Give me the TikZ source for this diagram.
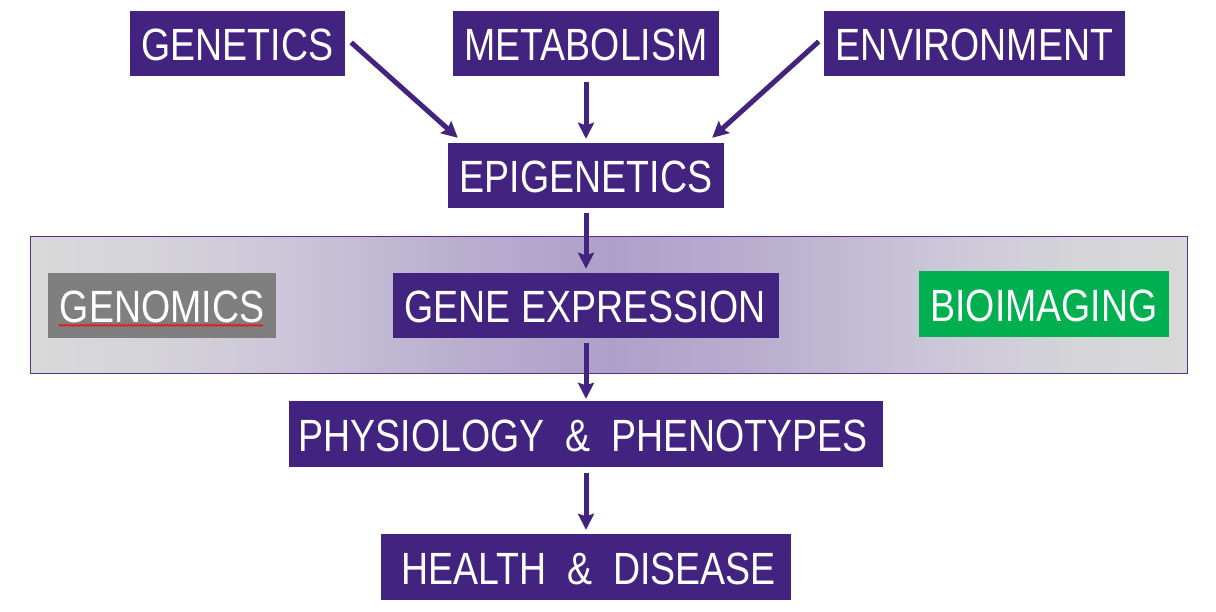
\documentclass[tikz,border=0pt]{standalone}
\usepackage{fontspec}
\setmainfont[FakeStretch=0.83]{Liberation Sans}
\usetikzlibrary{arrows.meta,decorations.pathmorphing}
\definecolor{boxpurple}{HTML}{42237F}
\definecolor{bandedge}{HTML}{5B2C8A}
\definecolor{bandgray}{HTML}{D9D9D9}
\definecolor{bandlight}{HTML}{D5D4D8}
\definecolor{bandpale}{HTML}{CBC6D9}
\definecolor{bandsoft}{HTML}{B8ADCE}
\definecolor{bandmid}{HTML}{AEA0C9}
\definecolor{imggreen}{HTML}{00B050}
\definecolor{omigray}{HTML}{7F7F7F}
\pgfdeclarehorizontalshading{bandshade}{100bp}{color(0bp)=(bandgray); color(25bp)=(bandgray); color(30bp)=(bandlight); color(36bp)=(bandpale); color(44bp)=(bandsoft); color(50bp)=(bandmid); color(56bp)=(bandsoft); color(64bp)=(bandpale); color(70bp)=(bandlight); color(75bp)=(bandgray); color(100bp)=(bandgray)}
\tikzset{
  tag/.style={fill=boxpurple, text=white, inner sep=0pt, text height=34pt, text depth=0pt,
    font=\fontsize{45.2}{50}\selectfont, minimum height=65pt},
  link/.style={draw=boxpurple, line width=5pt, -{Stealth[length=16pt,width=16pt,inset=2.5pt]}},
}
\begin{document}
\begin{tikzpicture}[x=1pt, y=-1pt]
        \useasboundingbox (0, 0) rectangle (1216, 611);
        \node (BAND) [draw=bandedge, line width=1pt, minimum width=1157pt, minimum height=137pt, inner sep=0pt, shading=bandshade] at (609, 305) {};
        \node (GEN) [tag, minimum width=215pt] at (237.5, 43.5) {GENETICS};
        \node (MET) [tag, minimum width=266pt] at (586, 43.5) {METABOLISM};
        \node (ENV) [tag, minimum width=301pt] at (974.5, 43.5) {ENVIRONMENT};
        \node (EPI) [tag, minimum width=276pt] at (586, 175.5) {EPIGENETICS};
        \node (OMI) [tag, minimum width=228pt, fill=omigray] at (162, 305.5) {GENOMICS};
        \node (EXP) [tag, minimum width=386pt] at (586, 305.5) {\hspace{-2pt}GENE EXPRESSION};
        \node (IMG) [tag, minimum width=250pt, minimum height=66pt, fill=imggreen] at (1044, 304) {BIOIMAGING};
        \node (PHY) [tag, minimum width=594pt, minimum height=66pt] at (586, 434) {\hspace{-6pt}PHYSIOLOGY\ \ \&\ \ PHENOTYPES};
        \node (HEA) [tag, minimum width=410pt, minimum height=66pt] at (586, 567) {\hspace{5pt}HEALTH\ \ \&\ \ DISEASE};
        \draw [link] ([shift={(6, -1)}]GEN.east) -- ([shift={(10, -5)}]EPI.north west);
        \draw [link] ([shift={(-5, -2)}]ENV.west) -- ([shift={(-12, -5)}]EPI.north east);
        \draw [link, shorten <=6pt, shorten >=4pt] (MET.south) -- (EPI.north);
        \draw [link, shorten <=5pt, shorten >=4pt] (EPI.south) -- (EXP.north);
        \draw [link, shorten <=5pt, shorten >=2pt] (EXP.south) -- (PHY.north);
        \draw [link, shorten <=6pt, shorten >=4pt] (PHY.south) -- (HEA.north);
        \draw [red, line width=0.8pt, decorate, decoration={zigzag, segment length=3pt, amplitude=1pt}] ([shift={(11, 52.5)}]OMI.north west) -- ([shift={(-13, 52.5)}]OMI.north east);
\end{tikzpicture}
\end{document}
